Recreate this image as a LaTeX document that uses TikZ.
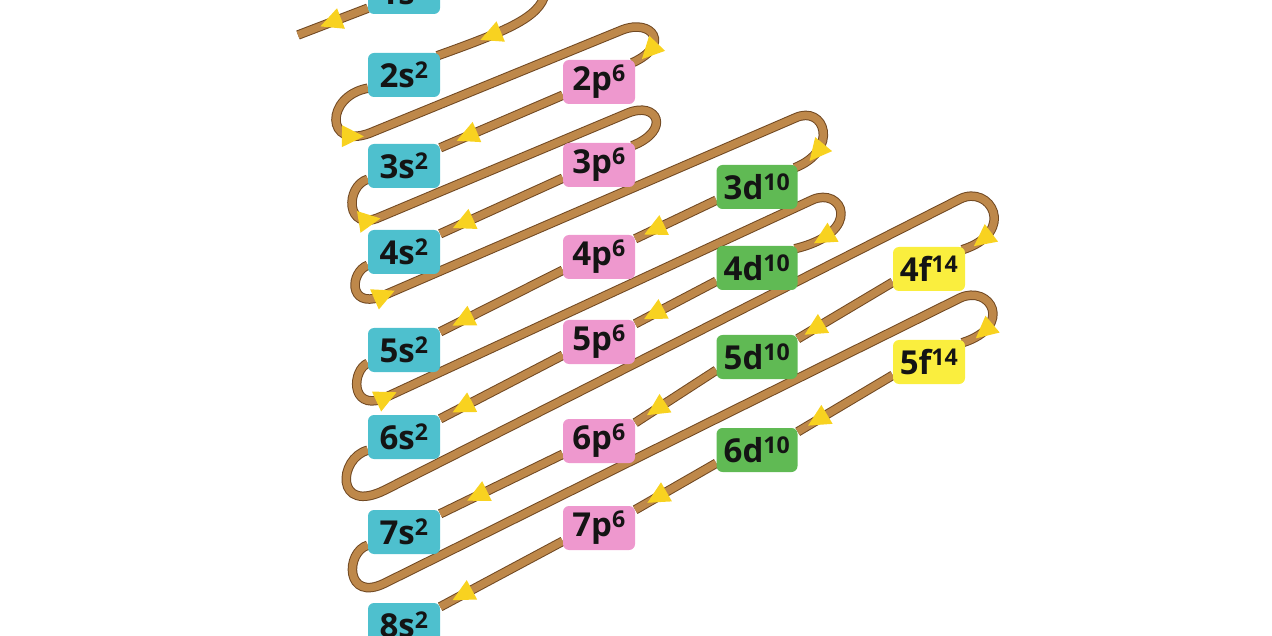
\documentclass[tikz,border=0pt]{standalone}
\usepackage{fontspec}
\setmainfont{Open Sans}
\usetikzlibrary{arrows}
\usetikzlibrary{decorations.markings}
\definecolor{scyan}{RGB}{78,192,206}
\definecolor{ppink}{RGB}{238,152,206}
\definecolor{dgreen}{RGB}{96,186,84}
\definecolor{fyellow}{RGB}{250,238,62}
\definecolor{wirebrown}{RGB}{190,136,74}
\definecolor{wiredark}{RGB}{112,72,34}
\definecolor{tipyellow}{RGB}{248,210,32}
\pgfdeclarelayer{background}
\pgfsetlayers{background,main}
\tikzset{
orb/.style={rounded corners=6pt,minimum width=72pt,minimum height=44pt,inner sep=0pt,text=black!92,font=\fontsize{33}{36}\selectfont\bfseries},
sorb/.style={orb,fill=scyan},
porb/.style={orb,fill=ppink},
dorb/.style={orb,fill=dgreen,minimum width=81pt},
forb/.style={orb,fill=fyellow},
wire/.style={draw=wirebrown,line width=7.5pt,preaction={draw=wiredark,line width=9.5pt}},
arrowed/.style={postaction={decorate,decoration={markings,mark=at position #1 with {\fill[tipyellow] (10pt,0pt) -- (-12pt,11pt) -- (-12pt,-11pt) -- cycle;}}}},
arrowed/.default=-24pt
}

\begin{document}
\begin{tikzpicture}[line cap=round,line join=round,x=1pt,y=-1pt]
\useasboundingbox (0,0) rectangle (1272,636);
\node[sorb] (s1) at (404,-8) {1s\textsuperscript{2}};
\node[sorb] (s2) at (404,75) {2s\textsuperscript{2}};
\node[sorb] (s3) at (404,166) {3s\textsuperscript{2}};
\node[sorb] (s4) at (404,252) {4s\textsuperscript{2}};
\node[sorb] (s5) at (404,350) {5s\textsuperscript{2}};
\node[sorb] (s6) at (404,437) {6s\textsuperscript{2}};
\node[sorb] (s7) at (404,532) {7s\textsuperscript{2}};
\node[sorb] (s8) at (404,625) {8s\textsuperscript{2}};
\node[porb] (p2) at (599,82) {2p\textsuperscript{6}};
\node[porb] (p3) at (599,165) {3p\textsuperscript{6}};
\node[porb] (p4) at (599,257) {4p\textsuperscript{6}};
\node[porb] (p5) at (599,342) {5p\textsuperscript{6}};
\node[porb] (p6) at (599,441) {6p\textsuperscript{6}};
\node[porb] (p7) at (599,528) {7p\textsuperscript{6}};
\node[dorb] (d3) at (757,187) {3d\textsuperscript{10}};
\node[dorb] (d4) at (757,268) {4d\textsuperscript{10}};
\node[dorb] (d5) at (757,357) {5d\textsuperscript{10}};
\node[dorb] (d6) at (757,450) {6d\textsuperscript{10}};
\node[forb] (f4) at (929,269) {4f\textsuperscript{14}};
\node[forb] (f5) at (929,362) {5f\textsuperscript{14}};
\coordinate (top) at (546,-12);
\coordinate (tail) at (298,35);

\begin{pgfonlayer}{background}
\draw[wire,arrowed=-34pt] ([yshift=6pt]s1.south west) -- (tail);
\draw[wire,arrowed=-56pt] (top) .. controls (544,15) and (515,28) .. ([xshift=-3pt,yshift=-3pt]s2.north east);
\draw[wire,arrowed=76pt,arrowed=-20pt] ([yshift=9pt]s2.south west) .. controls (325,96) and (325,150) .. (370,133) -- (622,30) .. controls (652,18) and (672,45) .. ([xshift=-3pt,yshift=-3pt]p2.north east);
\draw[wire,arrowed=60pt] ([yshift=9pt]s3.south west) .. controls (345,186) and (345,233) .. (380,217) -- (628,113) .. controls (657,101) and (672,130) .. ([xshift=-3pt,yshift=-3pt]p3.north east);
\draw[wire,arrowed=-26pt] ([yshift=9pt]s4.south west) .. controls (350,272) and (348,308) .. (380,297) -- (795,118) .. controls (825,104) and (840,150) .. ([xshift=-3pt,yshift=-3pt]d3.north east);
\path[arrowed=6pt] (380,297) -- (795,118);
\draw[wire,arrowed=-30pt] ([yshift=9pt]s5.south west) .. controls (352,370) and (350,410) .. (382,399) -- (812,200) .. controls (842,186) and (865,232) .. ([xshift=-3pt,yshift=-3pt]d4.north east);
\path[arrowed=6pt] (382,399) -- (812,200);
\draw[wire,arrowed=-22pt] ([yshift=9pt]s6.south west) .. controls (338,458) and (335,515) .. (385,490) -- (960,199) .. controls (990,184) and (1018,232) .. ([xshift=-3pt,yshift=-3pt]f4.north east);
\draw[wire,arrowed=-24pt] ([yshift=9pt]s7.south west) .. controls (345,552) and (345,603) .. (385,583) -- (960,298) .. controls (990,284) and (1015,326) .. ([xshift=-3pt,yshift=-3pt]f5.north east);
\draw[wire,arrowed=-28pt] ([yshift=9pt]p2.south west) -- ([yshift=-4pt]s3.north east);
\draw[wire,arrowed] ([yshift=9pt]p3.south west) -- ([yshift=-4pt]s4.north east);
\draw[wire,arrowed=-20pt] ([yshift=9pt]d3.south west) -- ([yshift=-4pt]p4.north east);
\draw[wire,arrowed] ([yshift=9pt]p4.south west) -- ([yshift=-4pt]s5.north east);
\draw[wire,arrowed=-20pt] ([yshift=9pt]d4.south west) -- ([yshift=-4pt]p5.north east);
\draw[wire,arrowed] ([yshift=9pt]p5.south west) -- ([yshift=-4pt]s6.north east);
\draw[wire,arrowed=-18pt] ([yshift=9pt]f4.south west) -- ([yshift=-4pt]d5.north east);
\draw[wire,arrowed] ([yshift=9pt]d5.south west) -- ([yshift=-4pt]p6.north east);
\draw[wire,arrowed=-40pt] ([yshift=9pt]p6.south west) -- ([yshift=-4pt]s7.north east);
\draw[wire,arrowed=-22pt] ([yshift=9pt]f5.south west) -- ([yshift=-4pt]d6.north east);
\draw[wire,arrowed] ([yshift=9pt]d6.south west) -- ([yshift=-4pt]p7.north east);
\draw[wire,arrowed] ([yshift=9pt]p7.south west) -- ([yshift=-4pt]s8.north east);
\end{pgfonlayer}
\end{tikzpicture}
\end{document}
